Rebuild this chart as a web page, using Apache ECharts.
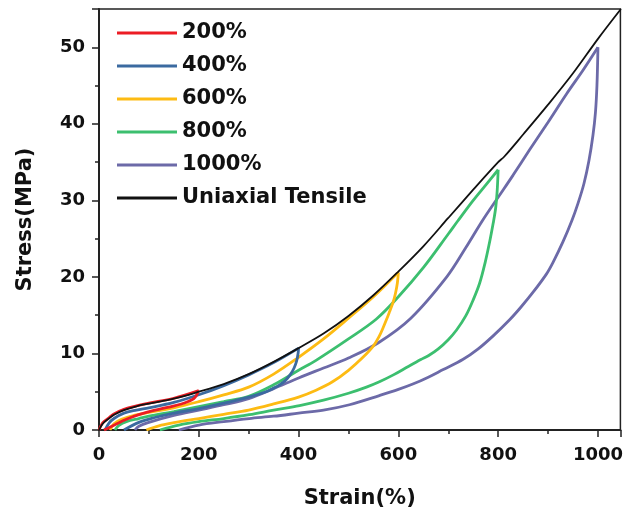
<!DOCTYPE html>
<html><head><meta charset="utf-8">
<script src="https://cdn.jsdelivr.net/npm/echarts@6/dist/echarts.min.js"></script>
<style>html,body{margin:0;padding:0;background:#fff}#c{width:626px;height:514px}</style>
</head><body><div id="c"></div>
<script>
const legendNames = ['200%', '400%', '600%', '800%', '1000%', 'Uniaxial Tensile'];
const colors = ['#ec1c24', '#3b6aa0', '#fdbb13', '#3cbf6f', '#6c6aa8', '#111111'];
const xTitle = 'Strain(%)';
const yTitle = 'Stress(MPa)';

const tensile = [[0,0],[5,0.6],[10,1.0],[20,1.5],[30,2.0],[50,2.6],[75,3.1],[100,3.45],[150,4.1],[200,5.0],[250,6.0],[300,7.3],[350,8.9],[400,10.7],[450,12.6],[500,14.9],[550,17.6],[600,20.7],[650,24.0],[700,27.7],[750,31.4],[800,35.0],[812,35.7],[850,38.6],[900,42.5],[950,46.6],[1000,51.1],[1046,55]];

const load200 = [[0,0],[5,0.7],[10,1.1],[20,1.6],[30,2.1],[50,2.7],[75,3.15],[100,3.5],[150,4.15],[200,5.15]];
const unload200 = [[200,5.15],[196,4.6],[190,4.1],[180,3.75],[165,3.4],[140,3.0],[110,2.55],[80,2.0],[55,1.4],[32,0.7],[10,0]];

const load400 = [[12,0],[20,0.9],[30,1.5],[50,2.2],[75,2.6],[100,2.9],[150,3.6],[200,4.6],[250,5.8],[300,7.2],[350,8.8],[400,10.7]];
const unload400 = [[400,10.7],[399,10.0],[396,9.0],[391,8.1],[384,7.3],[374,6.5],[362,5.9],[348,5.4],[335,5.0],[300,4.3],[250,3.5],[200,2.8],[150,2.2],[110,1.6],[80,1.0],[50,0]];

const load600 = [[22,0],[30,0.8],[45,1.4],[70,1.9],[100,2.3],[150,2.9],[200,3.7],[250,4.6],[300,5.6],[350,7.3],[400,9.5],[450,11.9],[500,14.6],[550,17.4],[600,20.6]];
const unload600 = [[600,20.6],[598,19.2],[594,17.8],[589,16.6],[582,15.4],[576,14.4],[569,13.3],[562,12.3],[550,11.0],[529,9.5],[500,7.8],[468,6.3],[435,5.2],[400,4.3],[350,3.4],[300,2.6],[250,2.05],[200,1.5],[150,0.95],[120,0.55],[95,0]];

const load800 = [[32,0],[40,0.6],[55,1.1],[80,1.5],[100,1.8],[150,2.4],[200,3.05],[250,3.7],[300,4.4],[350,5.9],[400,7.8],[435,9.1],[500,11.9],[556,14.5],[600,17.4],[650,21.2],[700,25.6],[719,27.3],[750,30.0],[775,32.0],[800,34.0]];
const unload800 = [[800,34.0],[798,31.2],[795,29.0],[790,27.0],[783,24.6],[774,21.9],[763,19.2],[750,17.0],[735,14.9],[717,13.1],[700,11.8],[680,10.6],[660,9.7],[645,9.2],[620,8.3],[590,7.2],[562,6.3],[536,5.6],[500,4.8],[450,3.9],[402,3.2],[350,2.6],[301,2.0],[250,1.5],[200,1.1],[160,0.65],[122,0]];

const load1000 = [[72,0],[80,0.5],[100,1.0],[150,1.9],[200,2.6],[250,3.3],[300,4.1],[350,5.4],[400,6.8],[450,8.1],[500,9.4],[560,11.4],[625,14.6],[697,20.0],[735,23.8],[769,27.4],[800,30.4],[830,33.3],[863,36.6],[900,40.2],[937,43.9],[970,47.0],[1000,50.0]];
const unload1000 = [[1000,50.0],[998,45.0],[995,41.5],[990,38.5],[982,35.2],[972,32.2],[960,29.6],[948,27.4],[930,24.6],[910,21.9],[897,20.4],[870,18.0],[845,16.0],[823,14.4],[790,12.3],[760,10.6],[729,9.2],[690,7.9],[660,6.9],[629,6.0],[600,5.3],[562,4.5],[502,3.3],[450,2.6],[400,2.2],[350,1.8],[301,1.5],[250,1.1],[200,0.65],[160,0]];

const cycles = [
  [load1000, unload1000, 4],
  [load800, unload800, 3],
  [load600, unload600, 2],
  [load400, unload400, 1],
  [load200, unload200, 0]
];

const FONT = 'DejaVu Sans';
const series = [];
cycles.forEach(([ld, ul, i]) => {
  [ld, ul].forEach(d => series.push({
    name: legendNames[i], type: 'line', data: d, smooth: 0.35, symbol: 'none',
    color: colors[i], lineStyle: { width: 2.8, color: colors[i] }, z: 2
  }));
});
series.push({
  name: legendNames[5], type: 'line', data: tensile, smooth: 0.35, symbol: 'none',
  color: colors[5], lineStyle: { width: 1.8, color: colors[5] }, z: 3
});

const chart = echarts.init(document.getElementById('c'), null, { renderer: 'canvas' });
chart.setOption({
  animation: false,
  backgroundColor: '#fff',
  grid: { left: 99, right: 5, top: 9, bottom: 84, show: true, borderColor: '#222', borderWidth: 1.5, backgroundColor: 'transparent' },
  legend: {
    data: legendNames, left: 117, top: 22.5, orient: 'vertical', padding: 0,
    itemWidth: 60, itemHeight: 3, itemGap: 12, icon: 'rect',
    textStyle: { fontFamily: FONT, fontWeight: 'bold', fontSize: 21, color: '#111', lineHeight: 21 }
  },
  xAxis: {
    type: 'value', min: 0, max: 1045, interval: 200,
    name: xTitle, nameLocation: 'middle', nameGap: 58,
    nameTextStyle: { fontFamily: FONT, fontWeight: 'bold', fontSize: 21, color: '#111' },
    axisLine: { show: true, lineStyle: { color: '#222', width: 2 } },
    axisTick: { show: true, length: 7, inside: false, lineStyle: { color: '#222', width: 1.5 } },
    minorTick: { show: true, splitNumber: 2, length: 4, lineStyle: { color: '#222', width: 1.5 } },
    splitLine: { show: false },
    axisLabel: { showMaxLabel: false, margin: 16, formatter: v => String(v), fontFamily: FONT, fontWeight: 'bold', fontSize: 18, color: '#111' }
  },
  yAxis: {
    type: 'value', min: 0, max: 55, interval: 10,
    name: yTitle, nameLocation: 'middle', nameGap: 63,
    nameTextStyle: { fontFamily: FONT, fontWeight: 'bold', fontSize: 21, color: '#111' },
    axisLine: { show: true, lineStyle: { color: '#222', width: 2 } },
    axisTick: { show: true, length: 7, inside: false, lineStyle: { color: '#222', width: 1.5 } },
    minorTick: { show: true, splitNumber: 2, length: 4, lineStyle: { color: '#222', width: 1.5 } },
    splitLine: { show: false },
    axisLabel: { showMaxLabel: false, margin: 14, fontFamily: FONT, fontWeight: 'bold', fontSize: 18, color: '#111' }
  },
  series: series
});
</script></body></html>
